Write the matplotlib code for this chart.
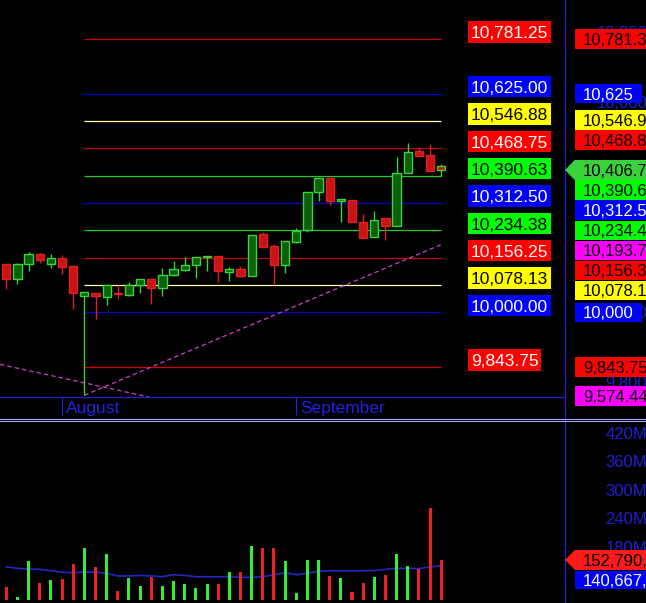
from decimal import Decimal, ROUND_HALF_UP

import matplotlib
matplotlib.use('Agg')
import matplotlib.pyplot as plt
import matplotlib.transforms as mtransforms
import numpy as np
from matplotlib.lines import Line2D
from matplotlib.patches import Polygon, Rectangle

DPI = 100
W, H = 646, 603

# daily bars, index 0 = first visible session
opens = [10137, 10095, 10137, 10168, 10137, 10154, 10132, 10048, 10055, 10044,
         10054, 10050, 10077, 10094, 10070, 10108, 10122, 10135, 10157, 10160,
         10115, 10123, 10104, 10223, 10189, 10135, 10201, 10235, 10343, 10383,
         10318, 10320, 10257, 10216, 10271, 10247, 10397, 10461, 10449, 10418]
highs = [10139, 10141, 10173, 10170, 10168, 10163, 10133, 10057, 10056, 10077,
         10077, 10088, 10094, 10094, 10128, 10146, 10157, 10157, 10160, 10160,
         10130, 10132, 10222, 10231, 10195, 10203, 10242, 10343, 10383, 10383,
         10325, 10320, 10281, 10290, 10271, 10445, 10483, 10473, 10481, 10425]
lows = [10068, 10082, 10118, 10141, 10128, 10109, 10011, 9763, 9980, 10022,
        10037, 10046, 10054, 10025, 10047, 10103, 10118, 10098, 10118, 10087,
        10090, 10101, 10104, 10187, 10077, 10113, 10198, 10230, 10318, 10306,
        10258, 10258, 10213, 10216, 10206, 10247, 10397, 10447, 10404, 10391]
closes = [10095, 10137, 10168, 10151, 10154, 10130, 10055, 10057, 10048, 10077,
          10053, 10077, 10094, 10070, 10108, 10125, 10135, 10157, 10160, 10118,
          10123, 10104, 10222, 10187, 10135, 10203, 10232, 10343, 10383, 10318,
          10323, 10258, 10213, 10265, 10247, 10397, 10457, 10447, 10404, 10406.7]

# volume in millions of shares and its moving average
volumes = [96, 75, 151, 105, 110.5, 113, 144, 177, 138.5, 165,
           88, 115, 98, 117, 98, 108, 102, 94, 102, 102,
           127, 127, 182, 177, 177, 150.5, 83, 152.6, 152.6, 119,
           115, 85, 104, 117, 121, 165, 140, 134, 262, 152.79]
volume_ma = [138, 135, 133.5, 133, 130, 127, 126, 127, 127, 124.6,
             119, 119, 120, 119, 117.5, 121.7, 120, 117.5, 117.5, 117,
             117.5, 116, 116, 117.5, 121.7, 126, 121.7, 124.6, 129, 130,
             130, 129.5, 130, 130.5, 133, 135, 135, 134.5, 138, 140.667]

# levels drawn from the swing low bar to the last bar
levels = [10781.25, 10625.0, 10546.875, 10468.75, 10390.625, 10312.5,
          10234.375, 10156.25, 10078.125, 10000.0, 9843.75]
level_kinds = ['red', 'blue', 'yellow', 'red', 'green', 'blue',
               'green', 'red', 'yellow', 'blue', 'red']
level_start = 7

# trend lines: (bar, price) anchor pairs
trend_down = [(0, 9847.5), (39, 9574.44)]
trend_up = [(7, 9763), (39, 10193.7)]

month_names = ['August', 'September']
month_first_bar = [5, 26]

price_ticks = [10800, 10600, 10400, 10200, 10000, 9800]
volume_ticks = [180, 240, 300, 360, 420]

BLUE = '#1f1fd6'
LAVENDER = '#a4a4ff'
GREEN_EDGE = '#3ad23a'
GREEN_FILL = '#0c600c'
RED_EDGE = '#e02020'
RED_FILL = '#c81414'
VOL_GREEN = '#33ee33'
VOL_RED = '#ee2020'
MAGENTA = '#d43cd4'

line_colors = {'red': '#cc0000', 'blue': '#0000cc', 'green': '#22cc22', 'yellow': '#ffffa0'}
box_colors = {'red': '#ff0000', 'blue': '#0000ff', 'green': '#00ff00',
              'yellow': '#ffff00', 'magenta': '#ff00ff'}
mid_ink = {'red': 'white', 'blue': 'white', 'green': 'black', 'yellow': 'black'}
side_ink = {'red': 'black', 'blue': 'white', 'green': 'black', 'yellow': 'black',
            'magenta': 'black'}


def fmt_sig(v, digits=6):
    whole = len(str(int(abs(v))))
    places = max(digits - whole, 0)
    q = Decimal(str(v)).quantize(Decimal(1).scaleb(-places), rounding=ROUND_HALF_UP)
    s = format(q, ',')
    if '.' in s:
        s = s.rstrip('0').rstrip('.')
    return s


def fmt2(v):
    return format(Decimal(str(v)).quantize(Decimal('0.01'), rounding=ROUND_HALF_UP), ',')


def stack(naturals, anchor, step, gap_above, bottom):
    # push side tags away from the anchor tag so none overlap
    ys = [min(y, bottom) for y in naturals]
    placed = list(ys)
    above = sorted([k for k, y in enumerate(ys) if y < anchor], key=lambda k: -ys[k])
    below = sorted([k for k, y in enumerate(ys) if y >= anchor], key=lambda k: ys[k])
    limit = anchor - gap_above
    for k in above:
        placed[k] = min(ys[k], limit)
        limit = placed[k] - step
    limit = anchor + step
    for k in below:
        placed[k] = max(ys[k], limit)
        limit = placed[k] + step
    return placed


def main():
    plt.rcParams['font.family'] = 'Liberation Sans'
    fig = plt.figure(figsize=(W / DPI, H / DPI), dpi=DPI, facecolor='black')
    # pixel coordinates, origin at the top left
    px = mtransforms.Affine2D().scale(1 / DPI, -1 / DPI).translate(0, H / DPI) + fig.dpi_scale_trans
    renderer = fig.canvas.get_renderer()

    ax = fig.add_axes([0, (H - 397) / H, 565 / W, 397 / H])
    axv = fig.add_axes([0, (H - 600) / H, 565 / W, 179.5 / H])
    for a in (ax, axv):
        a.set_facecolor('black')
        a.set_xticks([])
        a.set_yticks([])
        for s in a.spines.values():
            s.set_visible(False)
        a.set_xlim(-0.565, 50.1)
    ax.spines['bottom'].set_visible(True)
    ax.spines['bottom'].set_color(BLUE)
    ax.spines['bottom'].set_linewidth(0.9)
    ax.set_ylim(9758.1, 10892.7)
    axv.set_ylim(68.4, 446.3)

    def x_px(a, x):
        return a.transData.transform((x, 0))[0]

    def y_px(a, y):
        return H - a.transData.transform((0, y))[1]

    xs = np.arange(len(closes))
    o = np.array(opens, dtype=float)
    c = np.array(closes, dtype=float)
    prev = np.concatenate([[o[0]], c[:-1]])
    fills = [GREEN_FILL if cc >= oo else RED_FILL for oo, cc in zip(o, c)]
    edges = [GREEN_EDGE if cc >= pp else RED_EDGE for pp, cc in zip(prev, c)]

    # levels and trend lines
    for lv, kind in zip(levels, level_kinds):
        ax.hlines(lv, level_start, xs[-1], colors=line_colors[kind], linewidth=0.9, zorder=2)
    ax.axline(trend_down[0], trend_down[1], color=MAGENTA, linewidth=0.9,
              linestyle=(0, (3.5, 2.5)), zorder=2)
    ax.plot([p[0] for p in trend_up], [p[1] for p in trend_up], color=MAGENTA,
            linewidth=0.9, linestyle=(0, (3.5, 2.5)), zorder=2)

    # candles
    ax.vlines(xs, lows, highs, colors=edges, linewidth=1, zorder=3)
    ax.bar(xs, np.abs(c - o), 0.74, np.minimum(o, c), color=fills,
           edgecolor=edges, linewidth=1, zorder=4)

    # volume
    vol_colors = [VOL_GREEN if cc >= oo else VOL_RED for oo, cc in zip(o, c)]
    axv.plot(xs, volume_ma, color='#2626c4', linewidth=1.2, zorder=2)
    axv.bar(xs, volumes, 0.27, color=vol_colors, zorder=3)

    # frame lines
    fig.add_artist(Line2D([565, 565], [0, H], transform=px, color=BLUE, linewidth=0.9))
    for yy in (418.5, 420.5):
        fig.add_artist(Line2D([0, W], [yy, yy], transform=px, color=LAVENDER, linewidth=0.8))

    # month labels
    for name, bar in zip(month_names, month_first_bar):
        xp = x_px(ax, bar)
        fig.add_artist(Line2D([xp, xp], [397, 415], transform=px, color=BLUE, linewidth=0.8))
        fig.text(xp + 3.5, 413.5, name, transform=px, color='#2222e6', fontsize=12.5,
                 va='baseline', ha='left')

    def tag(x_left, yc, text, face, ink, fs, padx, h, tip=None, z=5):
        cap = 0.716 * fs / 72 * DPI
        t = fig.text(x_left + padx, yc + cap / 2, text, transform=px, color=ink,
                     fontsize=fs, va='baseline', ha='left', zorder=z + 1)
        w = t.get_window_extent(renderer).width * DPI / fig.dpi
        fig.add_artist(Rectangle((x_left, yc - h / 2), w + 2 * padx, h, transform=px,
                                 facecolor=face, edgecolor='none', zorder=z))
        if tip is not None:
            fig.add_artist(Polygon([(tip, yc), (x_left, yc - h / 2), (x_left, yc + h / 2)],
                                   closed=True, transform=px, facecolor=face,
                                   edgecolor='none', zorder=z))

    # right axis tick labels (mostly hidden behind tags)
    for v in price_ticks:
        fig.text(647, y_px(ax, v) + 6, f"{v:,}", transform=px, color=BLUE, fontsize=12,
                 ha='right', va='baseline', zorder=2)
    for v in volume_ticks:
        fig.text(647, y_px(axv, v) + 6, f"{v}M", transform=px, color=BLUE, fontsize=12,
                 ha='right', va='baseline', zorder=2)

    # level labels next to the lines
    mid_x = x_px(ax, xs[-1]) + 27.2
    for lv, kind in zip(levels, level_kinds):
        tag(mid_x, y_px(ax, lv) - 7, fmt2(lv), box_colors[kind], mid_ink[kind], 12.5, 2.6, 21.6)

    # price tags on the right axis
    trend_end = [trend_down[1][1], trend_up[1][1]]
    side_vals = levels + trend_end
    side_kinds = level_kinds + ['magenta', 'magenta']
    anchor = y_px(ax, closes[-1])
    bottom = y_px(ax, ax.get_ylim()[0]) - 1
    placed = stack([y_px(ax, v) for v in side_vals], anchor, 20, 30, bottom)
    for v, kind, yc in zip(side_vals, side_kinds, placed):
        tag(575, yc, fmt_sig(v), box_colors[kind], side_ink[kind], 12, 8, 19.6)
    tag(575, anchor, fmt_sig(closes[-1]), edges[-1], 'black', 12, 8, 20.6, tip=565)

    # volume tags
    v_anchor = y_px(axv, volumes[-1])
    v_placed = stack([y_px(axv, volume_ma[-1])], v_anchor, 20, 30, H)
    tag(575, v_anchor, f"{int(round(volumes[-1] * 1e6)):,}", '#ff1a1a', 'black', 12, 8, 20,
        tip=565)
    tag(575, v_placed[0], f"{int(round(volume_ma[-1] * 1e6)):,}", '#0000ff', 'white', 12, 8, 18)

    fig.savefig('out.png', dpi=DPI, facecolor='black')


if __name__ == '__main__':
    main()
